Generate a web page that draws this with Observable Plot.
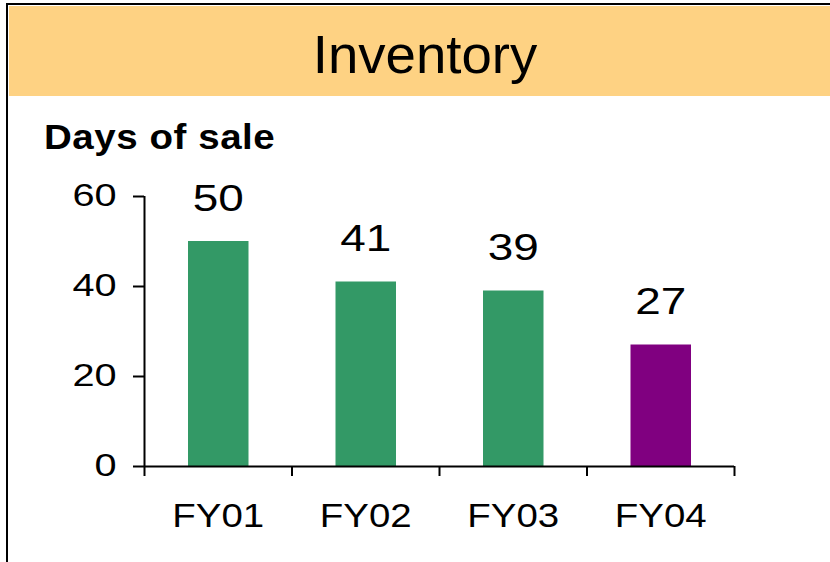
<!DOCTYPE html>
<html>
<head>
<meta charset="utf-8">
<script src="https://cdn.jsdelivr.net/npm/d3@7"></script>
<script src="https://cdn.jsdelivr.net/npm/@observablehq/plot@0.6"></script>
<style>
  html, body { margin: 0; padding: 0; background: #fff; }
  body { width: 830px; height: 562px; position: relative; overflow: hidden; font-family: "Liberation Sans", Arial, sans-serif; }
  #frame { position: absolute; left: 6px; top: 3px; right: -10px; bottom: -10px; border-top: 2px solid #000; border-left: 2px solid #000; }
  #header { position: absolute; left: 9px; top: 6px; width: 821px; height: 90px; background: #FED283; }
  #title { position: absolute; left: 0; width: 850px; top: 28.4px; font-size: 53px; line-height: 1; text-align: center; color: #000; transform: scaleX(1.03); transform-origin: 425px 0; white-space: nowrap; }
  #ylabel { position: absolute; left: 44px; top: 118.5px; font-size: 35px; font-weight: bold; line-height: 1; letter-spacing: 0.5px; color: #000; transform: scaleX(1.1); transform-origin: 0 0; white-space: nowrap; }
  #chart { position: absolute; left: 0; top: 0; }
</style>
</head>
<body>
<div id="frame"></div>
<div id="header"></div>
<div id="chart"></div>
<div id="title">Inventory</div>
<div id="ylabel">Days of sale</div>
<script>
const categories = ["FY01", "FY02", "FY03", "FY04"];
const values = [50, 41, 39, 27];
const yTicks = [0, 20, 40, 60];
const highlight = "FY04";

const data = categories.map((year, index) => ({year, days: values[index], index}));
const n = categories.length;
const green = "#339966", purple = "#800080";

const svg = Plot.plot({
  width: 830,
  height: 562,
  marginTop: 196,
  marginBottom: 96,
  marginLeft: 144,
  marginRight: 96,
  style: {background: "transparent", fontFamily: "'Liberation Sans', Arial, sans-serif", color: "#000", overflow: "visible"},
  x: {type: "linear", domain: [0, n], label: null},
  y: {domain: d3.extent(yTicks), label: null},
  marks: [
    Plot.rectY(data, {x1: "index", x2: d => d.index + 1, y: "days", insetLeft: 44, insetRight: 43,
      fill: d => d.year === highlight ? purple : green}),
    Plot.ruleX([0], {y1: d3.min(yTicks), y2: d3.max(yTicks), stroke: "#000", strokeWidth: 2}),
    Plot.ruleY([0], {x1: 0, x2: n, stroke: "#000", strokeWidth: 2}),
    Plot.axisY(yTicks, {tickSize: 11, tickPadding: 17, fontSize: 31, strokeWidth: 2, label: null, tickFormat: d => String(d)}),
    Plot.axisX(d3.range(n + 1), {tickSize: 10, strokeWidth: 2, label: null, tickFormat: () => ""}),
    Plot.text(data, {x: d => d.index + 0.5, y: "days", text: d => String(d.days), dy: -31, lineAnchor: "bottom", fontSize: 37}),
    Plot.text(data, {x: d => d.index + 0.5, y: () => 0, text: "year", dy: 60, lineAnchor: "bottom", fontSize: 34})
  ]
});
document.getElementById("chart").appendChild(svg);

// Horizontal stretch of the original chart's lettering
const stretch = {"37": 1.24, "31": 1.28, "34": 1.13};
svg.querySelectorAll("text").forEach(t => {
  const g = t.closest("[font-size]");
  const f = g ? stretch[g.getAttribute("font-size")] : null;
  if (!f) return;
  const L = t.getComputedTextLength();
  if (L > 0) {
    t.setAttribute("textLength", L * f);
    t.setAttribute("lengthAdjust", "spacingAndGlyphs");
  }
});
</script>
</body>
</html>
